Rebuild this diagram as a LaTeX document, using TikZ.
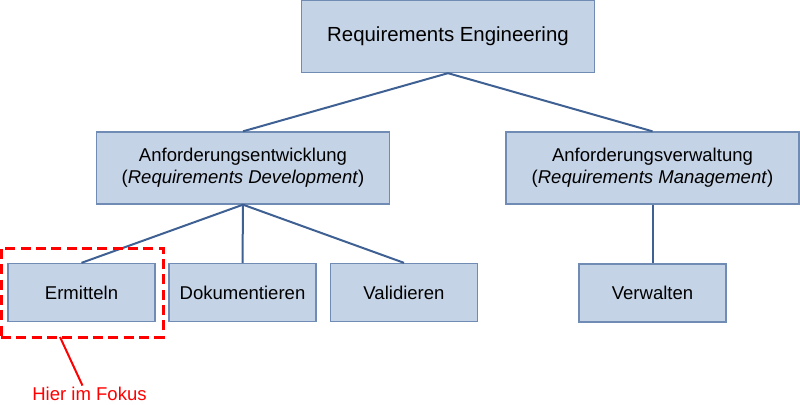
\documentclass[tikz,border=0pt]{standalone}
\usepackage{fontspec}
\setmainfont{Liberation Sans}
\usetikzlibrary{calc}
\usetikzlibrary{positioning}

\begin{document}
\begin{tikzpicture}[x=0.75pt,y=-0.75pt,
    box/.style={draw=boxrand,fill=boxfill,line width=1pt,align=center,inner sep=0pt,
                font=\fontsize{13.9}{16.5}\selectfont},
    grossbox/.style={box,minimum width=219.75pt,minimum height=54pt},
    kleinbox/.style={box,minimum width=110.25pt,minimum height=43.5pt},
    verbindung/.style={draw=linie,line width=1.5pt}]

		    \definecolor{boxfill}{RGB}{197,211,230}
		    \definecolor{boxrand}{RGB}{112,140,180}
		    \definecolor{linie}{RGB}{62,96,146}
		    \useasboundingbox (0,0) rectangle (800,404);

		    % obere Ebene
		    \node(re) [grossbox,font=\fontsize{15.3}{18}\selectfont] at (448,36.5) {Requirements Engineering};

		    \node(entw) [grossbox] at (243,168) {Anforderungsentwicklung\\(\textit{Requirements Development})};
		    \node(verw) [grossbox] at (652.5,168) {Anforderungsverwaltung\\(\textit{Requirements Management})};

		    % untere Ebene
		    \node(ermitteln) [kleinbox] at (81.5,292.5) {Ermitteln};
		    \node(doku) [kleinbox] at (242.5,292.5) {Dokumentieren};
		    \node(valid) [kleinbox] at (404,292.5) {Validieren};
		    \node(verwalten) [kleinbox] at (652.5,293) {Verwalten};

		    \draw[verbindung] (re.south) -- (entw.north);
		    \draw[verbindung] (re.south) -- (verw.north);
		    \draw[verbindung] (entw.south) -- (ermitteln.north);
		    \draw[verbindung] (entw.south) -- (doku.north);
		    \draw[verbindung] (entw.south) -- (valid.north);
		    \draw[verbindung] (verw.south) -- (verwalten.north);

		    % Fokus
		    \node(fokus) [draw=red,line width=2.25pt,dash pattern=on 7.5pt off 4pt,
		                  minimum width=121.5pt,minimum height=66.75pt,inner sep=0pt] at (82,292.5) {};
		    \node(hinweis) [text=red,inner sep=1pt,font=\fontsize{13.9}{16.5}\selectfont] at (89.5,394) {Hier im Fokus};
		    \coordinate (zeiger) at (60,337);
		    \draw[red,line width=1.5pt] (zeiger) -- ($(hinweis.north)+(-7,0)$);

\end{tikzpicture}
\end{document}
